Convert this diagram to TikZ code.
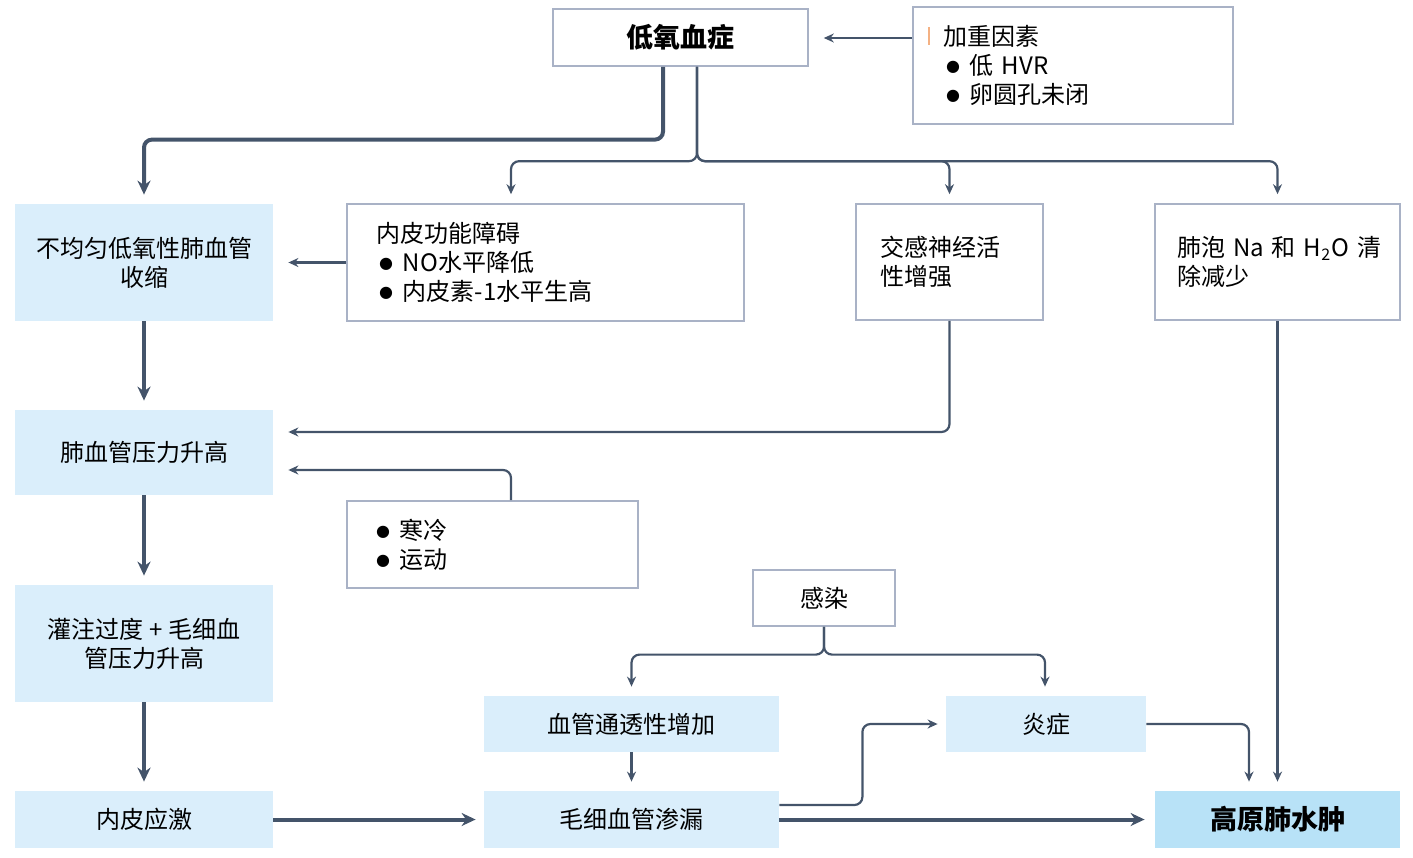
\documentclass[tikz,border=0pt]{standalone}
\usepackage{fontspec}
\setmainfont{Noto Sans CJK SC}
\newfontfamily\symf{DejaVu Sans}
\usepackage{tikz}
\usetikzlibrary{positioning,calc,arrows.meta}
\definecolor{linecol}{HTML}{44546A}
\definecolor{boxline}{HTML}{A9B2C6}
\definecolor{lightblue}{HTML}{DAEEFB}
\definecolor{midblue}{HTML}{B8E2F7}
\definecolor{markcol}{HTML}{F4B183}
\newcommand{\bul}{\hspace*{1.5pt}\raisebox{1.5pt}{\symf\fontsize{8}{8}\selectfont ●}\hspace{5pt}}

\begin{document}
\begin{tikzpicture}[x=0.5pt, y=-0.5pt,
  every node/.style={font=\fontsize{12}{14.5}\selectfont, inner ysep=0pt},
  wbox/.style={draw=boxline, line width=0.8pt, fill=white, align=left},
  bbox/.style={fill=lightblue, align=center, inner xsep=0pt},
  thin/.style={draw=linecol, line width=1.1pt, rounded corners=4pt, -{Stealth[length=5pt,width=4.5pt]}, shorten >=4.5pt},
  thick/.style={draw=linecol, line width=2pt, rounded corners=4pt, -{Stealth[length=7pt,width=6.5pt]}, shorten >=4.5pt}]
\useasboundingbox (0,0) rectangle (1413,857);

\node[wbox, align=center, minimum width=127.5pt, minimum height=28.5pt, font=\fontsize{13.5}{16}\selectfont\bfseries] (hypox) at (680.5,37.5) {低氧血症};
\node[wbox, text width=130pt, inner xsep=15pt, minimum height=58.5pt] (factors) at (1073,65.5) {加重因素\\\bul 低 HVR\\\bul 卵圆孔未闭};
\draw[markcol, line width=0.7pt] (929,27) -- (929,45);

\node[bbox, minimum width=129pt, minimum height=58.5pt] (hpv) at (144,262.5) {不均匀低氧性肺血管\\收缩};
\node[wbox, text width=169.5pt, inner xsep=14.5pt, minimum height=58.5pt] (endo) at (545.5,262.5) {内皮功能障碍\\\bul NO水平降低\\\bul 内皮素-1水平生高};
\node[wbox, text width=69.5pt, inner xsep=12pt, minimum height=58pt] (sympa) at (949.5,262) {交感神经活\\性增强};
\node[wbox, text width=100.5pt, inner xsep=11pt, minimum height=58pt] (alv) at (1277.5,262) {\mbox{肺泡 Na 和 H\textsubscript{2}O 清}\\除减少};

\node[bbox, minimum width=129pt, minimum height=42.5pt] (ppa) at (144,452.5) {肺血管压力升高};
\node[wbox, text width=119.5pt, inner xsep=13pt, minimum height=43.5pt] (cold) at (492.5,544.5) {\bul 寒冷\\\bul 运动};
\node[bbox, minimum width=129pt, minimum height=58.5pt] (over) at (144,643.5) {灌注过度 + 毛细血\\管压力升高};
\node[bbox, minimum width=129pt, minimum height=28.5pt] (stress) at (144,819.5) {内皮应激};

\node[wbox, align=center, minimum width=71pt, minimum height=28pt] (infect) at (824,598) {感染};
\node[bbox, minimum width=147.5pt, minimum height=28pt] (perm) at (631.5,724) {血管通透性增加};
\node[bbox, minimum width=147.5pt, minimum height=28.5pt] (leak) at (631.5,819.5) {毛细血管渗漏};
\node[bbox, minimum width=100pt, minimum height=28pt] (infl) at (1046,724) {炎症};
\node[bbox, fill=midblue, minimum width=122.5pt, minimum height=28.5pt, font=\fontsize{13.5}{16}\selectfont\bfseries] (hape) at (1277.5,819.5) {高原肺水肿};

\draw[thin, shorten >=7.5pt] (factors.west |- 0,38) -- (hypox.east |- 0,38);
\draw[thick] ($(hypox.south)+(-17.5,0)$) |- ($(hpv.north)+(0,-64)$) -- (hpv.north);
\draw[thin] ($(hypox.south)+(16.5,0)$) |- ($(endo.north)+(-34.5,-42)$) -- ($(endo.north)+(-34.5,0)$);
\draw[thin] ($(hypox.south)+(16.5,0)$) |- ($(sympa.north)+(0,-42)$) -- (sympa.north);
\draw[thin] ($(hypox.south)+(16.5,0)$) |- ($(alv.north)+(0,-42)$) -- (alv.north);
\draw[thin, shorten >=7.5pt] (endo.west) -- (hpv.east |- endo.west);
\draw[thin, shorten >=7.5pt] (sympa.south) |- ($(ppa.east)+(0,-20.5)$);
\draw[thin, shorten >=7.5pt] ($(cold.north)+(18.5,0)$) |- ($(ppa.east)+(0,17.5)$);

\draw[thick] (hpv) -- (ppa);
\draw[thick] (ppa) -- (over);
\draw[thick] (over) -- (stress);
\draw[thick, shorten >=4pt] (stress) -- (leak);

\draw[thin] (infect.south) |- ($(perm.north)+(0,-41)$) -- (perm.north);
\draw[thin] (infect.south) |- ($(infl.north)+(-1,-41)$) -- ($(infl.north)+(-1,0)$);
\draw[thin] (perm) -- (leak);
\draw[thin, shorten >=4pt] ($(leak.east)+(0,-14.5)$) -- ++(83,0) |- (infl.west);
\draw[thick, shorten >=5pt] (leak) -- (hape);
\draw[thin] (infl.east) -| ($(hape.north)+(-28.5,0)$);
\draw[thin] (alv.south) -- (hape.north);
\end{tikzpicture}
\end{document}
